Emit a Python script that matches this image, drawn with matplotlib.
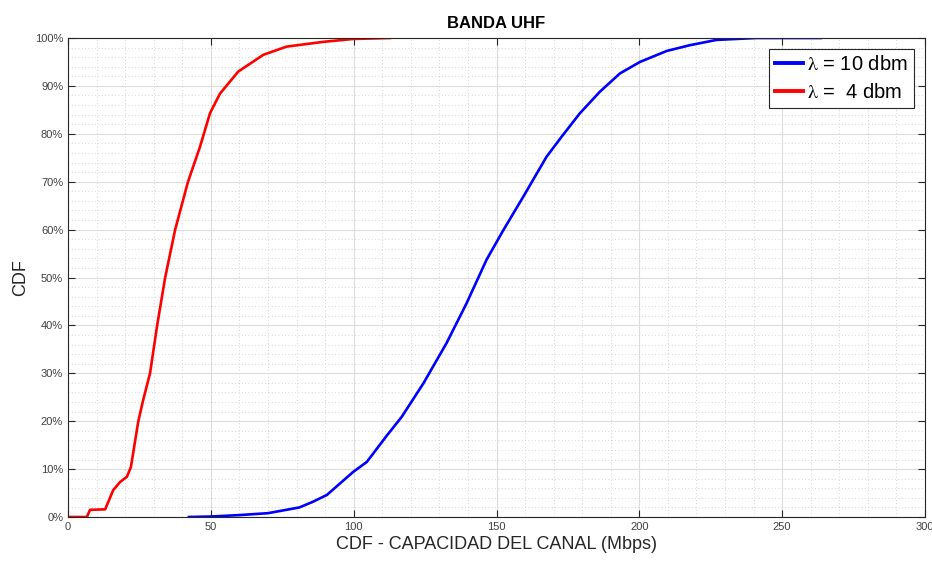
import numpy as np
import matplotlib.pyplot as plt
from matplotlib.ticker import MultipleLocator, FuncFormatter

plt.rcParams['font.family'] = ['Liberation Sans', 'DejaVu Sans']
plt.rcParams['mathtext.fontset'] = 'stix'

# CDF de capacidad, lambda = 4 dbm (rojo)
red_x = [0, 6.6, 7.7, 13, 15.8, 18.2, 20.6, 22, 24.6, 26.3, 28.7, 31.2, 34, 37.5,
         42, 46.2, 49.7, 53.2, 59.6, 68.4, 76.5, 89.4, 99.8, 112.7]
red_y = [0, 0, 1.5, 1.6, 5.6, 7.3, 8.4, 10.4, 20, 24.4, 30, 40, 50, 60,
         70, 77.3, 84.3, 88.4, 93.0, 96.5, 98.2, 99.2, 99.8, 100]

# lambda = 10 dbm (azul)
blue_x = [42.3, 50, 60, 70, 81, 85.8, 90.6, 99.8, 104.6, 111.6, 116.8, 124.4, 132.5,
          139.5, 146.5, 152.4, 159.4, 167.5, 172.8, 179.2, 186.2, 193.2, 200.2,
          209.6, 217.7, 227.0, 241, 263.5]
blue_y = [0, 0.1, 0.4, 0.8, 2, 3.2, 4.6, 9.4, 11.5, 17, 20.9, 27.9, 36.3,
          44.6, 53.7, 59.9, 66.9, 75.2, 79.4, 84.3, 88.8, 92.6, 95.0,
          97.3, 98.5, 99.6, 100, 100]

labels = [r'$\mathrm{\lambda}$ = 10 dbm', r'$\mathrm{\lambda}$ =  4 dbm']

fig = plt.figure(figsize=(9.32, 5.63), dpi=100)
ax = fig.add_axes([0.073, 0.0817, 0.9195, 0.8508])

ax.plot(blue_x, np.array(blue_y) / 100, color='#0000ff', lw=1.9, label=labels[0])
ax.plot(red_x, np.array(red_y) / 100, color='#ff0000', lw=1.9, label=labels[1])

ax.set_xlim(0, 300)
ax.set_ylim(0, 1)
ax.xaxis.set_major_locator(MultipleLocator(50))
ax.xaxis.set_minor_locator(MultipleLocator(10))
ax.yaxis.set_major_locator(MultipleLocator(0.1))
ax.yaxis.set_minor_locator(MultipleLocator(0.02))
ax.yaxis.set_major_formatter(FuncFormatter(lambda v, p: f'{v*100:.0f}%'))

ax.grid(which='major', color='#dcdcdc', lw=0.8)
ax.grid(which='minor', color='#c8c8c8', lw=0.6, linestyle=(0, (1, 3)))
ax.set_axisbelow(True)

ax.tick_params(which='major', direction='in', length=5, top=True, right=True,
               labelsize=8, colors='#262626', labelcolor='#404040', width=0.8)
ax.tick_params(which='minor', length=0, top=True, right=True)
for s in ax.spines.values():
    s.set_color('#262626')
    s.set_linewidth(0.8)

ax.set_title('BANDA UHF', fontsize=12, fontweight='bold', pad=7)
ax.set_xlabel('CDF - CAPACIDAD DEL CANAL (Mbps)', fontsize=13, color='#262626', labelpad=3)
ax.set_ylabel('CDF', fontsize=13, color='#262626', labelpad=4)

leg = ax.legend(loc='upper right', fontsize=14.5, fancybox=False, framealpha=1,
                edgecolor='#262626', handlelength=1.4, borderpad=0.3,
                labelspacing=0.45, handletextpad=0.2, borderaxespad=0,
                bbox_to_anchor=(0.987, 0.977))
leg.get_frame().set_linewidth(0.8)
for h in leg.get_lines():
    h.set_linewidth(2.8)

fig.savefig('out.png', dpi=100)
